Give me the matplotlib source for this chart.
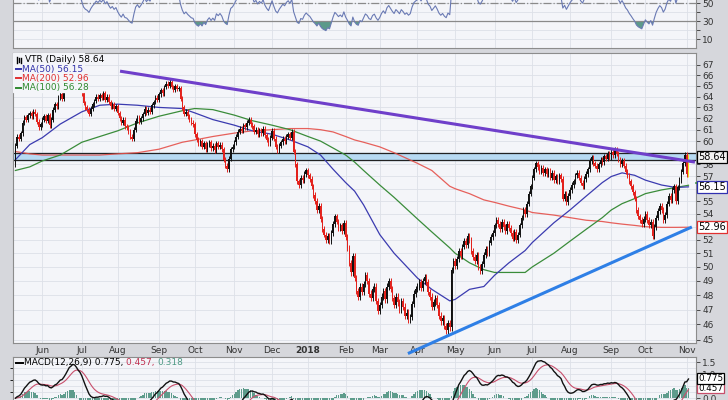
import matplotlib
matplotlib.use('Agg')
import matplotlib.pyplot as plt
import matplotlib.ticker as mticker
import numpy as np
import pandas as pd

# VTR daily closes, one list per month (trading days only)
c_2017_05 = [59.6, 60.4, 60.2, 60.7, 61.6, 62.1, 61.9, 62.3, 62.5, 62.2, 62.6, 62.4, 61.7, 61.2, 61.5]
c_2017_06 = [61.9, 62.2, 61.8, 62.3, 61.4, 61.9, 62.8, 63.3, 63.1, 63.9, 64.2, 63.8, 64.9, 65.6, 66.3, 66.8,
             66.4, 66.9, 66.1, 65.3, 64.9, 65.2]
c_2017_07 = [64.3, 63.4, 63.0, 62.8, 62.4, 62.9, 63.3, 63.6, 64.0, 63.8, 64.1, 63.9, 64.3, 63.7, 64.0, 63.5,
             63.1, 63.3, 62.9, 63.1]
c_2017_08 = [62.5, 62.0, 61.6, 61.9, 61.3, 61.2, 60.8, 60.4, 60.2, 61.0, 61.8, 62.1, 61.7, 62.0, 62.4, 62.9,
             62.5, 62.8, 62.6, 63.2, 63.5, 63.9, 63.7]
c_2017_09 = [64.2, 64.6, 64.3, 64.9, 65.2, 65.0, 65.4, 64.9, 64.6, 65.0, 64.7, 64.8, 63.8, 63.0, 62.4, 62.6,
             62.2, 61.9, 61.6, 61.5]
c_2017_10 = [60.6, 60.1, 59.8, 60.0, 59.5, 59.8, 59.3, 59.7, 59.9, 59.4, 59.6, 59.2, 59.8, 59.5, 59.7, 59.3,
             58.4, 57.9, 57.6, 58.5, 59.3, 59.5]
c_2017_11 = [59.9, 60.4, 60.8, 61.1, 60.9, 61.4, 61.2, 61.6, 61.9, 61.5, 61.3, 60.8, 61.0, 60.6, 60.9, 60.7,
             61.1, 60.5, 60.1, 59.8, 60.3]
c_2017_12 = [60.9, 60.2, 59.5, 59.2, 59.6, 59.9, 60.2, 60.0, 60.4, 60.6, 60.3, 60.8, 59.1, 58.0, 56.6, 56.3,
             56.9, 56.7, 57.2, 57.5]
c_2018_01 = [57.1, 56.8, 56.2, 55.5, 55.0, 54.3, 54.6, 53.6, 52.8, 52.4, 52.0, 52.3, 51.9, 52.5, 53.2, 53.8,
             53.4, 52.9, 53.1, 52.7, 53.3]
c_2018_02 = [52.2, 51.4, 50.3, 49.6, 50.8, 49.2, 48.3, 47.9, 48.6, 48.2, 48.8, 49.4, 49.0, 48.1, 47.8, 48.4,
             48.6, 47.6, 46.9]
c_2018_03 = [47.3, 47.9, 48.3, 47.7, 48.6, 49.0, 48.4, 47.8, 47.3, 47.9, 47.5, 47.0, 47.6, 47.2, 46.6, 46.8,
             46.3, 46.5, 47.4, 48.1, 48.4]
c_2018_04 = [48.6, 48.9, 48.5, 49.0, 49.3, 48.9, 48.2, 47.9, 47.2, 47.5, 47.8, 47.3, 46.6, 46.2, 46.4, 45.9,
             45.6, 46.1, 45.8, 49.8, 50.4]
c_2018_05 = [50.1, 50.6, 51.2, 50.8, 51.5, 51.9, 51.6, 52.3, 52.0, 51.2, 50.7, 50.4, 50.9, 50.0, 49.7, 50.2,
             50.9, 51.3, 51.0, 51.8, 52.2, 52.5]
c_2018_06 = [53.1, 53.5, 53.2, 52.8, 53.4, 53.0, 52.7, 53.2, 52.9, 52.5, 52.1, 52.6, 52.0, 52.4, 53.1, 53.7,
             54.3, 54.0, 54.8, 55.6, 56.2]
c_2018_07 = [56.9, 57.6, 58.1, 57.8, 57.4, 57.7, 57.3, 57.6, 57.2, 57.5, 56.9, 57.3, 56.7, 57.0, 56.6, 57.1,
             56.8, 55.2, 55.6, 54.9, 55.4]
c_2018_08 = [55.9, 56.3, 56.6, 57.1, 57.3, 56.9, 56.5, 56.2, 56.8, 57.2, 57.6, 58.3, 58.6, 58.1, 57.9, 57.6,
             58.0, 58.4, 58.2, 58.7, 58.5, 58.9, 58.6]
c_2018_09 = [59.1, 58.8, 59.3, 58.9, 58.4, 58.0, 58.3, 57.9, 57.4, 57.1, 56.6, 56.2, 55.7, 55.2, 54.3, 53.8,
             53.5, 53.2, 53.6]
c_2018_10 = [54.0, 53.5, 53.1, 53.4, 52.3, 53.0, 53.7, 54.2, 54.6, 54.3, 53.5, 53.9, 54.8, 55.4, 55.1, 55.9,
             56.2, 55.0, 56.1, 56.7, 57.4, 58.1, 58.8]
c_2018_11 = [57.2, 58.64]
first_open = 58.0

months = [c_2017_05, c_2017_06, c_2017_07, c_2017_08, c_2017_09, c_2017_10, c_2017_11, c_2017_12,
          c_2018_01, c_2018_02, c_2018_03, c_2018_04, c_2018_05, c_2018_06, c_2018_07, c_2018_08,
          c_2018_09, c_2018_10, c_2018_11]
month_labels = ['May', 'Jun', 'Jul', 'Aug', 'Sep', 'Oct', 'Nov', 'Dec', '2018', 'Feb', 'Mar', 'Apr',
                'May', 'Jun', 'Jul', 'Aug', 'Sep', 'Oct', 'Nov']

# moving averages (day index, value)
ma_idx = [0, 8, 15, 25, 37, 47, 57, 68, 80, 93, 100, 110, 122, 132, 143, 153, 163, 170, 177, 184, 189,
          194, 203, 211, 224, 232, 242, 245, 253, 261, 267, 275, 284, 288, 300, 309, 318, 327, 332, 338,
          345, 351, 360, 368, 375]
ma50 = [58.4, 59.7, 60.3, 61.5, 62.6, 63.2, 63.3, 63.2, 63.0, 62.9, 62.5, 61.9, 61.4, 60.9, 60.6, 60.1,
        59.5, 58.8, 57.6, 56.5, 55.8, 54.7, 52.4, 51.0, 49.2, 48.4, 47.6, 47.7, 48.4, 48.6, 49.4, 50.3,
        51.2, 51.8, 53.3, 54.3, 55.4, 56.5, 57.0, 57.3, 57.1, 56.7, 56.3, 56.1, 56.15]
ma100 = [57.5, 57.8, 58.3, 58.8, 59.9, 60.4, 60.9, 61.6, 62.2, 62.7, 62.9, 62.8, 62.3, 61.8, 61.4, 61.0,
         60.4, 60.0, 59.4, 58.8, 58.2, 57.5, 56.3, 55.3, 53.6, 52.6, 51.4, 51.0, 50.3, 49.8, 49.6, 49.6,
         49.6, 50.0, 51.0, 51.9, 52.8, 53.7, 54.3, 54.8, 55.2, 55.6, 55.9, 56.1, 56.28]
ma200 = [59.1, 58.9, 58.8, 58.8, 58.8, 58.8, 58.9, 59.0, 59.3, 59.9, 60.1, 60.4, 60.7, 60.9, 61.0, 61.1,
         61.1, 61.0, 60.8, 60.4, 60.1, 59.9, 59.5, 59.0, 58.1, 57.5, 56.2, 56.0, 55.6, 55.1, 54.9, 54.6,
         54.3, 54.1, 53.9, 53.7, 53.5, 53.4, 53.3, 53.2, 53.1, 53.0, 52.95, 52.95, 52.96]

# drawn trendlines (day index, price) and the resistance band
resist_idx, resist_px = [58.3, 378.6], [66.4, 58.2]
support_idx, support_px = [218.7, 376.9], [44.1, 52.98]
band_lo, band_hi = 58.35, 59.0
macd_last = ['0.775', '0.457', '0.318']

closes = np.array(np.concatenate(months), dtype=float)
n = len(closes)
x = np.arange(n)
opens = np.r_[first_open, closes[:-1]]
wick = 0.22
highs = np.maximum(opens, closes) + wick
lows = np.minimum(opens, closes) - wick
month_start = np.cumsum([0] + [len(m) for m in months[:-1]])

# indicators
s = pd.Series(closes)
delta = s.diff().fillna(0)
gain = delta.clip(lower=0).ewm(alpha=1 / 14, adjust=False).mean()
loss = (-delta).clip(lower=0).ewm(alpha=1 / 14, adjust=False).mean()
rsi = (100 - 100 / (1 + gain / loss)).to_numpy()
macd = s.ewm(span=12, adjust=False).mean() - s.ewm(span=26, adjust=False).mean()
signal = macd.ewm(span=9, adjust=False).mean()
hist = (macd - signal).to_numpy()

W, H = 728, 400
BG = '#f4f5f9'
FIG_BG = '#d6d7dc'
TXT = '#333333'
FS = 6.5


def box(x0, y_top, x1, y_bot):
    return [x0 / W, 1 - y_bot / H, (x1 - x0) / W, (y_bot - y_top) / H]


fig = plt.figure(figsize=(W / 100, H / 100), dpi=100, facecolor=FIG_BG)
ax = fig.add_axes(box(13.3, 53, 696, 343), facecolor=BG)
ax_rsi = fig.add_axes(box(13.3, -41.7, 696, 48.3), facecolor=BG, sharex=ax)
ax_macd = fig.add_axes(box(13.3, 356.7, 696, 422.2), facecolor=BG, sharex=ax)

for a in (ax, ax_rsi, ax_macd):
    for sp in a.spines.values():
        sp.set_color('#8c8c8c')
        sp.set_linewidth(0.8)
    a.set_axisbelow(True)
    a.grid(True, color='#dde0e8', lw=0.6)
    a.tick_params(axis='y', left=False, labelleft=False, right=True, labelright=True,
                  length=3, width=0.6, pad=1.5, labelsize=FS, colors=TXT)

# ---- price panel
ax.set_yscale('log')
ax.set_ylim(44.78, 68.17)
ax.set_xlim(-1.17, 379.2)
price_ticks = np.arange(45, 68)
ax.set_yticks(price_ticks)
# labels hidden behind the value tags are left blank
ax.set_yticklabels(['' if v in (53, 56, 59) else str(v) for v in price_ticks])
ax.yaxis.set_minor_locator(mticker.NullLocator())
ax.yaxis.set_minor_formatter(mticker.NullFormatter())
ax.set_xticks(month_start[1:])
ax.set_xticklabels(month_labels[1:])
ax.tick_params(axis='x', length=0, pad=2.5, labelsize=FS, labelcolor=TXT)
for t in ax.get_xticklabels():
    if t.get_text() == '2018':
        t.set_fontweight('bold')

ax.axhspan(band_lo, band_hi, color='#b7daf3', zorder=1)
ax.axhline(band_lo, color='#222222', lw=0.9, zorder=2)
ax.axhline(band_hi, color='#222222', lw=0.9, zorder=2)

ax.plot(ma_idx, ma200, color='#e5504a', lw=0.9, alpha=0.9, zorder=2)
ax.plot(ma_idx, ma100, color='#3a8c3a', lw=0.9, zorder=2)
ax.plot(ma_idx, ma50, color='#3b3bb0', lw=0.9, zorder=2)

col = np.where(closes >= opens, '#111111', '#e3211c')
col[-1] = '#e8e020'
ax.vlines(x, lows, highs, colors=col, lw=0.7, zorder=3)
ax.bar(x, np.maximum(np.abs(closes - opens), 0.06), bottom=np.minimum(opens, closes), width=0.8,
       color=col, linewidth=0, zorder=3)

ax.plot(resist_idx, resist_px, color='#6f3fca', lw=2.2, solid_capstyle='butt', zorder=4)
ax.plot(support_idx, support_px, color='#2e7fe6', lw=2.2, solid_capstyle='butt', zorder=4,
        clip_on=False)

# legend with opaque backing
ax.add_patch(plt.Rectangle((0, 0.865), 0.104, 0.135, transform=ax.transAxes, color=BG, zorder=5))
for dx, y0, y1 in [(0.005, 0.966, 0.986), (0.008, 0.970, 0.982), (0.011, 0.964, 0.984)]:
    ax.plot([dx, dx], [y0, y1], transform=ax.transAxes, color='black', lw=1.0, zorder=6)
ax.text(0.017, 0.976, f'VTR (Daily) {closes[-1]:.2f}', transform=ax.transAxes, fontsize=FS,
        va='center', color='black', zorder=6)
for yy, lab, val, c in [(0.944, 'MA(50)', ma50[-1], '#3333aa'), (0.913, 'MA(200)', ma200[-1], '#e03030'),
                        (0.880, 'MA(100)', ma100[-1], '#2f8a2f')]:
    ax.plot([0.004, 0.012], [yy, yy], transform=ax.transAxes, color=c, lw=1.4, zorder=6)
    ax.text(0.013, yy, f'{lab} {val:.2f}', transform=ax.transAxes, fontsize=FS, va='center', color=c,
            zorder=6)

ytr = ax.get_yaxis_transform()
# green MA(100) tag sits mostly hidden behind the MA(50) tag, as in the source chart
ax.plot([1.0, 1.05], [ma100[-1] * 1.004] * 2, transform=ytr, color='#3a8c3a', lw=1.2, clip_on=False,
        zorder=9)
tags = [(ma50[-1], '#3030b0', 'white'), (ma200[-1], '#e03030', 'white'), (closes[-1], 'black', '#f2f2f2')]
for val, ec, fc in tags:
    ax.text(1.003, val, f'{val:.2f}', transform=ytr, fontsize=7, va='center',
            ha='left', color='black', clip_on=False, zorder=10,
            bbox=dict(boxstyle='square,pad=0.12', fc=fc, ec=ec, lw=0.9))

# ---- RSI panel (mostly above the figure)
ax_rsi.set_ylim(0, 100)
ax_rsi.set_yticks(np.arange(10, 60, 10))
ax_rsi.set_yticklabels(['10', '', '30', '', '50'])
ax_rsi.tick_params(axis='x', labelbottom=False, length=0)
ax_rsi.axhline(30, color='#8a8a8a', lw=0.9)
ax_rsi.axhline(70, color='#8a8a8a', lw=0.9)
ax_rsi.axhline(50, color='#8a8a8a', lw=0.9, ls='-.')
ax_rsi.fill_between(x, rsi, 30, where=rsi < 30, interpolate=True, color='#5c9a8a', lw=0)
ax_rsi.plot(x, rsi, color='#6a7ab4', lw=0.8)

# ---- MACD panel (cut off by the bottom edge)
ax_macd.set_ylim(-1.0, 1.73)
ax_macd.set_yticks([0.0, 0.5, 1.0, 1.5])
ax_macd.set_yticklabels(['0.0', '', '1.0', '1.5'])
ax_macd.yaxis.set_minor_locator(mticker.MultipleLocator(0.25))
ax_macd.grid(True, which='minor', axis='y', color='#dde0e8', lw=0.6)
ax_macd.tick_params(axis='x', labelbottom=False, length=0)
ax_macd.bar(x, hist, width=0.75, color='#5e9c8c', linewidth=0)
ax_macd.plot(x, signal, color='#c84f6c', lw=0.8)
ax_macd.plot(x, macd, color='#111111', lw=1.0)
mtr = ax_macd.get_yaxis_transform()
for val, ec, dy in [(macd_last[1], '#c84f6c', -0.04), (macd_last[0], 'black', 0.04)]:
    ax_macd.text(1.003, float(val) + dy, val, transform=mtr, fontsize=6.3, va='center', ha='left',
                 clip_on=False, zorder=10, bbox=dict(boxstyle='square,pad=0.08', fc='white', ec=ec, lw=0.9))

ax_macd.plot([0.004, 0.014], [0.905, 0.905], transform=ax_macd.transAxes, color='black', lw=1.4)
t1 = ax_macd.text(0.016, 0.905, f'MACD(12,26,9) {macd_last[0]}, ', transform=ax_macd.transAxes,
                  fontsize=FS, va='center', color='black')
t2 = ax_macd.annotate(f'{macd_last[1]}, ', xy=(1, 0), xycoords=t1, va='bottom', fontsize=FS,
                      color='#c03050')
ax_macd.annotate(macd_last[2], xy=(1, 0), xycoords=t2, va='bottom', fontsize=FS, color='#4f9a85')

fig.savefig('out.png', dpi=100, facecolor=FIG_BG)
